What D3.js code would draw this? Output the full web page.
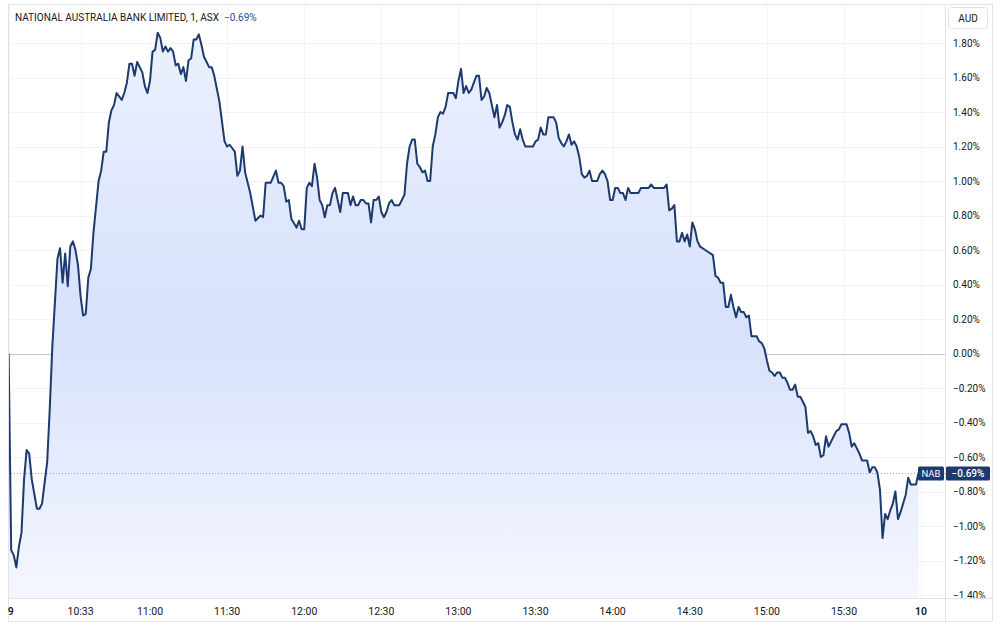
<!DOCTYPE html>
<html lang="en">
<head>
    <meta charset="UTF-8">
    <title>NAB intraday</title>
    <style>
        body { margin: 0; background: #fff; }
        svg { display: block; font-family: Roboto, 'Liberation Sans', sans-serif; }
    </style>
</head>
<body>
    <svg id="chart" width="1000" height="626"></svg>

    <script src="https://cdn.jsdelivr.net/npm/d3@7/dist/d3.min.js"></script>
    <script>
        // Session: 1-minute bars, percent change vs previous close
        const times = [
            "10:05","10:06","10:07","10:08","10:09","10:10","10:11","10:12","10:13","10:14","10:16","10:17","10:18","10:20","10:21","10:22","10:24","10:25","10:26","10:27",
            "10:28","10:29","10:30","10:31","10:32","10:33","10:34","10:35","10:36","10:37","10:38","10:40","10:41","10:42","10:43","10:44","10:45","10:46","10:47","10:49",
            "10:50","10:51","10:52","10:53","10:54","10:55","10:57","10:58","10:59","11:00","11:01","11:02","11:03","11:04","11:05","11:06","11:07","11:08","11:09","11:10",
            "11:11","11:12","11:13","11:14","11:15","11:16","11:17","11:18","11:19","11:20","11:21","11:23","11:24","11:25","11:27","11:29","11:30","11:31","11:32","11:33",
            "11:34","11:35","11:36","11:37","11:39","11:41","11:43","11:44","11:45","11:47","11:49","11:50","11:51","11:52","11:53","11:54","11:55","11:57","11:58","11:59",
            "12:00","12:01","12:02","12:03","12:04","12:05","12:06","12:07","12:08","12:09","12:10","12:11","12:12","12:13","12:14","12:15","12:17","12:18","12:19","12:20",
            "12:21","12:22","12:23","12:24","12:25","12:26","12:27","12:28","12:29","12:30","12:31","12:32","12:33","12:34","12:35","12:37","12:39","12:40","12:41","12:42",
            "12:43","12:44","12:45","12:46","12:47","12:48","12:49","12:50","12:51","12:52","12:53","12:54","12:55","12:56","12:58","12:59","13:00","13:01","13:02","13:03",
            "13:04","13:05","13:06","13:07","13:08","13:09","13:10","13:11","13:12","13:13","13:14","13:15","13:16","13:17","13:18","13:19","13:20","13:21","13:22","13:23",
            "13:24","13:25","13:26","13:27","13:29","13:30","13:31","13:32","13:33","13:34","13:35","13:37","13:38","13:39","13:40","13:41","13:42","13:43","13:44","13:45",
            "13:46","13:47","13:48","13:49","13:50","13:51","13:52","13:54","13:55","13:56","13:57","13:58","13:59","14:00","14:01","14:02","14:03","14:04","14:05","14:06",
            "14:07","14:10","14:11","14:14","14:15","14:16","14:20","14:21","14:22","14:23","14:24","14:25","14:26","14:27","14:28","14:29","14:30","14:31","14:32","14:33",
            "14:34","14:35","14:36","14:37","14:38","14:39","14:40","14:41","14:42","14:43","14:44","14:45","14:46","14:47","14:48","14:49","14:50","14:51","14:52","14:53",
            "14:54","14:56","14:57","14:58","14:59","15:00","15:01","15:02","15:03","15:04","15:05","15:06","15:07","15:08","15:09","15:10","15:11","15:12","15:13","15:14",
            "15:15","15:16","15:17","15:18","15:19","15:20","15:21","15:22","15:23","15:24","15:26","15:27","15:28","15:29","15:31","15:32","15:33","15:34","15:35","15:36",
            "15:37","15:39","15:40","15:41","15:42","15:43","15:44","15:45","15:46","15:47","15:48","15:49","15:50","15:51","15:52","15:53","15:54","15:55","15:56","15:58",
            "15:59"
        ];

        const pctChange = [
            0.00,-1.14,-1.17,-1.24,-1.12,-1.04,-0.73,-0.56,-0.58,-0.73,-0.90,-0.90,-0.87,-0.63,-0.32,0.04,0.55,0.61,0.41,0.58,
            0.39,0.62,0.65,0.60,0.51,0.33,0.22,0.23,0.44,0.49,0.70,1.00,1.06,1.17,1.17,1.34,1.41,1.44,1.51,1.47,
            1.51,1.57,1.68,1.68,1.61,1.69,1.63,1.55,1.51,1.58,1.75,1.76,1.86,1.83,1.75,1.78,1.75,1.77,1.75,1.67,
            1.68,1.62,1.66,1.58,1.70,1.71,1.82,1.82,1.85,1.79,1.72,1.66,1.66,1.61,1.46,1.23,1.20,1.21,1.19,1.17,
            1.03,1.06,1.20,1.05,0.93,0.77,0.80,0.79,0.99,0.99,1.06,0.99,0.99,0.97,0.88,0.89,0.78,0.73,0.77,0.72,
            0.72,0.96,0.99,0.97,1.10,1.02,0.89,0.86,0.79,0.86,0.86,0.93,0.96,0.89,0.82,0.93,0.93,0.86,0.91,0.86,
            0.86,0.89,0.89,0.87,0.87,0.76,0.89,0.89,0.91,0.82,0.79,0.82,0.87,0.89,0.86,0.86,0.92,1.10,1.20,1.24,
            1.24,1.10,1.08,1.05,1.06,1.00,1.00,1.20,1.27,1.37,1.40,1.39,1.43,1.51,1.51,1.48,1.58,1.65,1.51,1.55,
            1.51,1.53,1.57,1.61,1.61,1.47,1.49,1.54,1.51,1.44,1.37,1.44,1.31,1.34,1.38,1.44,1.43,1.34,1.27,1.24,
            1.30,1.24,1.20,1.20,1.20,1.23,1.24,1.31,1.27,1.27,1.37,1.37,1.34,1.25,1.22,1.20,1.23,1.27,1.21,1.23,
            1.20,1.14,1.04,1.02,1.03,1.06,1.00,1.00,1.04,1.06,1.04,1.00,0.89,0.89,0.96,0.96,0.93,0.93,0.89,0.96,
            0.93,0.93,0.96,0.96,0.98,0.96,0.96,0.98,0.83,0.84,0.86,0.65,0.65,0.70,0.65,0.69,0.62,0.76,0.72,0.65,
            0.62,0.61,0.60,0.59,0.58,0.57,0.45,0.44,0.41,0.41,0.27,0.27,0.34,0.27,0.21,0.27,0.24,0.24,0.21,0.22,
            0.10,0.10,0.07,0.06,0.03,-0.04,-0.10,-0.11,-0.13,-0.11,-0.11,-0.14,-0.14,-0.17,-0.21,-0.21,-0.18,-0.25,-0.25,-0.28,
            -0.31,-0.46,-0.45,-0.48,-0.53,-0.52,-0.60,-0.59,-0.48,-0.54,-0.48,-0.45,-0.44,-0.41,-0.41,-0.46,-0.54,-0.52,-0.55,-0.58,
            -0.62,-0.62,-0.69,-0.66,-0.66,-0.69,-0.79,-1.07,-0.93,-0.96,-0.91,-0.87,-0.80,-0.96,-0.92,-0.87,-0.82,-0.72,-0.76,-0.76,
            -0.69
        ];

        // x axis ticks (first and last are day labels)
        const xTickTimes = ["10:05","10:33","11:00","11:30","12:00","12:30","13:00","13:30","14:00","14:30","15:00","15:30","16:00"];
        const xTickLabels = ["9","10:33","11:00","11:30","12:00","12:30","13:00","13:30","14:00","14:30","15:00","15:30","10"];
        const yTicks = [1.8,1.6,1.4,1.2,1.0,0.8,0.6,0.4,0.2,0,-0.2,-0.4,-0.6,-0.8,-1.0,-1.2,-1.4];

        const titleText = "NATIONAL AUSTRALIA BANK LIMITED, 1, ASX";
        const symbol = "NAB";
        const currency = "AUD";

        const parse = d3.timeParse("%H:%M");
        const data = times.map((t, i) => ({ t: parse(t), v: pctChange[i] }));

        const plot = { left: 8, right: 945, top: 4, bottom: 598, axisRight: 992, axisBottom: 621 };
        const lineColor = "#1c3a6e";
        const gridColor = "#f0f3fa";
        const borderColor = "#e0e3eb";
        const textColor = "#131722";

        const fmt = v => (v < -0.0001 ? "\u2212" : "") + Math.abs(v).toFixed(2) + "%";

        const x = d3.scaleTime()
            .domain([parse("11:00"), parse("15:30")])
            .range([150, 844]);
        const y = d3.scaleLinear()
            .domain([-1.4, 1.8])
            .range([595, 43]);

        const svg = d3.select("#chart");

        const defs = svg.append("defs");
        const grad = defs.append("linearGradient")
            .attr("id", "areaFill")
            .attr("gradientUnits", "userSpaceOnUse")
            .attr("x1", 0).attr("x2", 0)
            .attr("y1", plot.top).attr("y2", plot.bottom);
        grad.append("stop").attr("offset", "0%").attr("stop-color", "#eef2fd");
        grad.append("stop").attr("offset", "55%").attr("stop-color", "#d7e1fc");
        grad.append("stop").attr("offset", "100%").attr("stop-color", "#f5f7fe");

        defs.append("clipPath").attr("id", "plotClip")
            .append("rect")
            .attr("x", plot.left).attr("y", plot.top)
            .attr("width", plot.right - plot.left).attr("height", plot.bottom - plot.top);
        defs.append("clipPath").attr("id", "axisClip")
            .append("rect")
            .attr("x", plot.right).attr("y", plot.top)
            .attr("width", plot.axisRight - plot.right).attr("height", plot.bottom - plot.top);

        // grid
        const grid = svg.append("g").attr("clip-path", "url(#plotClip)");
        grid.selectAll("line.h").data(yTicks).join("line")
            .attr("class", "h")
            .attr("x1", plot.left).attr("x2", plot.right)
            .attr("y1", d => Math.round(y(d)) + 0.5).attr("y2", d => Math.round(y(d)) + 0.5)
            .attr("stroke", gridColor);
        grid.selectAll("line.v").data(xTickTimes).join("line")
            .attr("class", "v")
            .attr("x1", d => Math.round(x(parse(d))) + 0.5).attr("x2", d => Math.round(x(parse(d))) + 0.5)
            .attr("y1", plot.top).attr("y2", plot.bottom)
            .attr("stroke", gridColor);

        // zero (base) line
        svg.append("line")
            .attr("x1", plot.left).attr("x2", plot.right)
            .attr("y1", Math.round(y(0)) + 0.5).attr("y2", Math.round(y(0)) + 0.5)
            .attr("stroke", "#c4c7ce");

        // area + line
        const series = svg.append("g").attr("clip-path", "url(#plotClip)");
        series.append("path")
            .datum(data)
            .attr("fill", "url(#areaFill)")
            .attr("d", d3.area().x(d => x(d.t)).y0(plot.bottom).y1(d => y(d.v)));
        series.append("path")
            .datum(data)
            .attr("fill", "none")
            .attr("stroke", lineColor)
            .attr("stroke-width", 2)
            .attr("stroke-linejoin", "round")
            .attr("d", d3.line().x(d => x(d.t)).y(d => y(d.v)));

        // last value dotted line
        const last = data[data.length - 1];
        const lastY = Math.round(y(last.v)) + 0.5;
        svg.append("line")
            .attr("x1", plot.left).attr("x2", plot.right)
            .attr("y1", lastY).attr("y2", lastY)
            .attr("stroke", "#9aa3b5")
            .attr("stroke-dasharray", "1,2");

        // frame
        const frame = svg.append("g").attr("stroke", borderColor).attr("fill", "none");
        frame.append("rect")
            .attr("x", plot.left + 0.5).attr("y", plot.top + 0.5)
            .attr("width", plot.axisRight - plot.left).attr("height", plot.axisBottom - plot.top);
        frame.append("line")
            .attr("x1", plot.right + 0.5).attr("x2", plot.right + 0.5)
            .attr("y1", plot.top).attr("y2", plot.axisBottom);
        frame.append("line")
            .attr("x1", plot.left).attr("x2", plot.axisRight)
            .attr("y1", plot.bottom + 0.5).attr("y2", plot.bottom + 0.5);

        // right price axis
        const yAxis = svg.append("g").attr("clip-path", "url(#axisClip)");
        yAxis.selectAll("text").data(yTicks).join("text")
            .attr("x", 953)
            .attr("y", d => y(d))
            .attr("dy", "0.35em")
            .attr("font-size", 10)
            .attr("fill", textColor)
            .text(fmt);

        // currency box
        svg.append("rect")
            .attr("x", 948.5).attr("y", 7.5).attr("width", 39).attr("height", 21).attr("rx", 3)
            .attr("fill", "#fff").attr("stroke", borderColor);
        svg.append("text")
            .attr("x", 968).attr("y", 18).attr("dy", "0.35em")
            .attr("text-anchor", "middle")
            .attr("font-size", 10).attr("fill", textColor)
            .text(currency);

        // time axis
        svg.append("g").selectAll("text").data(xTickTimes).join("text")
            .attr("x", (d, i) => i === 0 ? x(parse(d)) + 2 : x(parse(d)))
            .attr("y", 611)
            .attr("dy", "0.35em")
            .attr("text-anchor", "middle")
            .attr("font-size", 10.5)
            .attr("font-weight", (d, i) => (i === 0 || i === xTickTimes.length - 1) ? 600 : 400)
            .attr("fill", textColor)
            .text((d, i) => xTickLabels[i]);

        // last value labels
        svg.append("rect")
            .attr("x", 918).attr("y", lastY - 7).attr("width", 26).attr("height", 14).attr("rx", 1.5)
            .attr("fill", lineColor);
        svg.append("text")
            .attr("x", 931).attr("y", lastY).attr("dy", "0.35em")
            .attr("text-anchor", "middle")
            .attr("font-size", 9.5).attr("fill", "#fff")
            .text(symbol);
        svg.append("rect")
            .attr("x", 946).attr("y", lastY - 7).attr("width", 44).attr("height", 14).attr("rx", 1.5)
            .attr("fill", lineColor);
        svg.append("text")
            .attr("x", 968).attr("y", lastY).attr("dy", "0.35em")
            .attr("text-anchor", "middle")
            .attr("font-size", 10).attr("font-weight", 500).attr("fill", "#fff")
            .text(fmt(last.v));

        // title
        const title = svg.append("text")
            .attr("x", 15).attr("y", 17).attr("dy", "0.35em")
            .attr("font-size", 10).attr("fill", textColor);
        title.append("tspan").text(titleText);
        title.append("tspan").attr("dx", 5).attr("fill", "#2a4f8f").text(fmt(last.v));
    </script>
</body>
</html>
